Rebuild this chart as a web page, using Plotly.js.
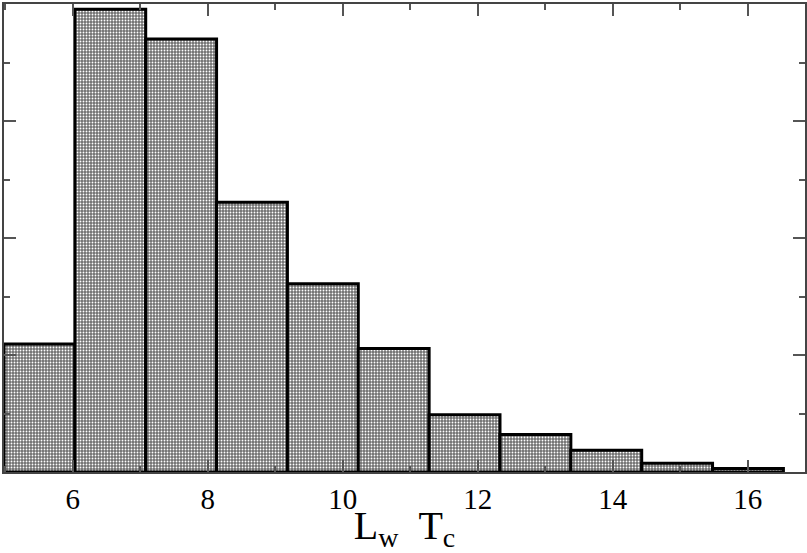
<!DOCTYPE html>
<html>
<head>
<meta charset="utf-8">
<script src="https://cdn.plot.ly/plotly-3.0.1.min.js"></script>
<style>html,body{margin:0;padding:0;background:#fff;}#chart{width:807px;height:553px;}</style>
</head>
<body>
<div id="chart"></div>
<script>
// Histogram data (bin start, bin width, heights per bin)
const binStart = 4.98;
const binWidth = 1.05;
const counts = [2.19, 7.91, 7.40, 4.61, 3.22, 2.11, 0.98, 0.64, 0.37, 0.15, 0.06];
const xTickVals = [6, 8, 10, 12, 14, 16];
const xTickText = ["6", "8", "10", "12", "14", "16"];
const xTitle = "L<sub>w</sub>&nbsp;&nbsp;T<sub>c</sub>";

const centers = counts.map((_, i) => binStart + binWidth * (i + 0.5));

const trace = {
  type: "bar",
  x: centers,
  y: counts,
  width: binWidth,
  marker: {
    color: "#707070",
    line: {color: "#000", width: 3},
    pattern: {shape: ".", bgcolor: "#707070", fgcolor: "#ffffff", size: 3, solidity: 0.3}
  },
  hoverinfo: "skip"
};

const serif = "Liberation Serif";

const layout = {
  width: 807, height: 553,
  margin: {l: 4, r: 2, t: 4, b: 81},
  paper_bgcolor: "#fff", plot_bgcolor: "#fff",
  showlegend: false,
  bargap: 0,
  xaxis: {
    range: [binStart, 16.85],
    tickvals: xTickVals, ticktext: xTickText,
    ticks: "inside", ticklen: 12, tickwidth: 2, tickcolor: "#555",
    minor: {dtick: 1, tick0: 0, ticks: "inside", ticklen: 6, tickwidth: 2, tickcolor: "#555"},
    showline: true, linecolor: "#444", linewidth: 2, mirror: "ticks",
    showgrid: false, zeroline: false,
    tickfont: {family: serif, size: 29, color: "#000"},
    title: {text: xTitle, font: {family: serif, size: 40, color: "#000"}, standoff: 8}
  },
  yaxis: {
    range: [0, 8],
    dtick: 2, tick0: 0,
    ticks: "inside", ticklen: 12, tickwidth: 2, tickcolor: "#555",
    minor: {dtick: 1, ticks: "inside", ticklen: 6, tickwidth: 2, tickcolor: "#555"},
    showticklabels: false,
    showline: true, linecolor: "#444", linewidth: 2, mirror: "ticks",
    showgrid: false, zeroline: false
  }
};

Plotly.newPlot("chart", [trace], layout, {staticPlot: true, displayModeBar: false});
</script>
</body>
</html>
